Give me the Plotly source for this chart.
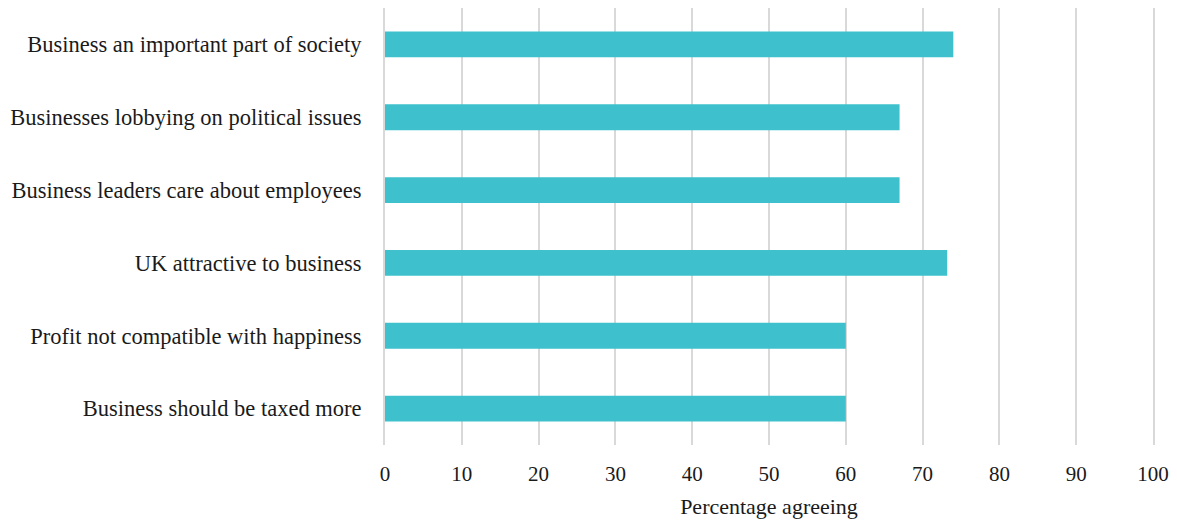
import plotly.graph_objects as go

categories = [
    "Business an important part of society",
    "Businesses lobbying on political issues",
    "Business leaders care about employees",
    "UK attractive to business",
    "Profit not compatible with happiness",
    "Business should be taxed more",
]
values = [74, 67, 67, 73.2, 60, 60]
x_ticks = [0, 10, 20, 30, 40, 50, 60, 70, 80, 90, 100]

font_family = "Liberation Serif, Times New Roman, serif"

fig = go.Figure(
    go.Bar(
        y=categories,
        x=values,
        orientation="h",
        marker=dict(color="#3EC1CD", line=dict(width=0)),
    )
)

fig.update_layout(
    width=1177,
    height=526,
    margin=dict(l=385, r=21, t=8, b=81),
    paper_bgcolor="white",
    plot_bgcolor="white",
    bargap=0.645,
    showlegend=False,
    font=dict(family=font_family, size=21, color="#1a1a1a"),
)

fig.update_xaxes(
    range=[0, 100],
    tickvals=x_ticks,
    showgrid=True,
    gridcolor="#d9d9d9",
    gridwidth=2,
    zeroline=False,
    showline=False,
    ticks="",
    ticklabelstandoff=14,
    tickfont=dict(size=21),
    title=dict(text="Percentage agreeing", font=dict(size=22), standoff=13),
)

# Edge gridlines at 0 and 100 drawn as the y-axis line and its mirror
fig.update_yaxes(
    categoryorder="array",
    categoryarray=categories[::-1],
    showgrid=False,
    zeroline=False,
    showline=True,
    mirror=True,
    linecolor="#d9d9d9",
    linewidth=2,
    ticks="",
    ticklabelstandoff=17,
    tickfont=dict(size=22.5),
)

fig.write_html("out.html")
